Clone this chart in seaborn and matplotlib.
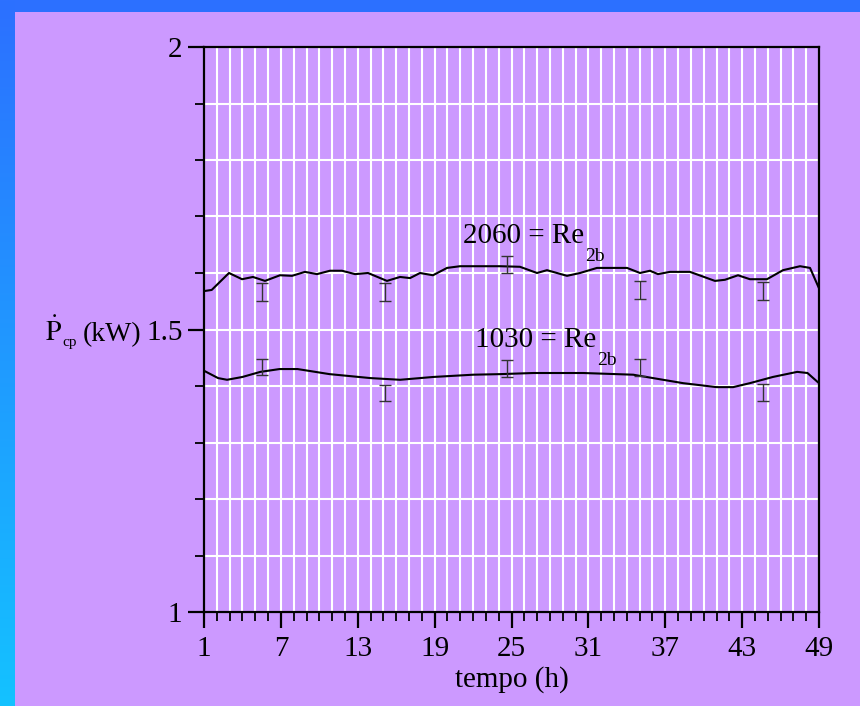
import numpy as np
import pandas as pd
import seaborn as sns
import matplotlib.pyplot as plt
from matplotlib.ticker import MultipleLocator

# Curve for Re_2b = 2060 (hours, kW)
hours_hi = [1.0, 1.6, 2.95, 3.97, 4.82, 5.76, 6.93, 7.87, 8.88, 9.82, 10.83,
            11.77, 12.79, 13.8, 15.28, 16.3, 17.08, 17.86, 18.87, 19.97,
            20.98, 24.1, 25.66, 26.99, 27.77, 29.33, 30.35, 31.67, 34.02,
            35.03, 35.81, 36.43, 37.37, 38.93, 40.88, 41.66, 42.68, 43.61,
            44.94, 46.19, 47.52, 48.3, 49.0]
pcp_hi = [1.568, 1.570, 1.600, 1.589, 1.593, 1.586, 1.596, 1.595, 1.602,
          1.598, 1.604, 1.604, 1.598, 1.600, 1.586, 1.593, 1.591, 1.600,
          1.596, 1.609, 1.612, 1.612, 1.611, 1.600, 1.605, 1.595, 1.600,
          1.609, 1.609, 1.600, 1.604, 1.598, 1.602, 1.602, 1.586, 1.588,
          1.596, 1.589, 1.589, 1.605, 1.612, 1.609, 1.573]

# Curve for Re_2b = 1030
hours_lo = [1.0, 2.1, 2.8, 4.0, 5.4, 6.9, 8.3, 10.8, 14.0, 16.3, 18.9, 22.0,
            24.1, 26.7, 30.6, 34.5, 35.0, 38.4, 41.0, 42.3, 43.6, 45.4, 47.3,
            48.1, 49.0]
pcp_lo = [1.427, 1.414, 1.411, 1.416, 1.425, 1.430, 1.430, 1.421, 1.414,
          1.411, 1.416, 1.420, 1.421, 1.423, 1.423, 1.420, 1.418, 1.405,
          1.398, 1.398, 1.405, 1.416, 1.425, 1.423, 1.405]

# Experimental points with error bars
err_hours = [5.5, 15.1, 24.65, 35.03, 44.6]
err_mean_hi = [1.566, 1.567, 1.615, 1.570, 1.568]
err_half_hi = [0.016, 0.016, 0.015, 0.016, 0.016]
err_mean_lo = [1.434, 1.388, 1.431, 1.433, 1.389]
err_half_lo = [0.014, 0.014, 0.015, 0.015, 0.015]

x_ticks = [1, 7, 13, 19, 25, 31, 37, 43, 49]
y_ticks = [1, 1.5, 2]
y_tick_labels = ['1', '1.5', '2']

purple = '#CC99FF'

sns.set_theme(style='ticks')
plt.rcParams['font.family'] = ['Liberation Serif', 'DejaVu Serif']
plt.rcParams['mathtext.fontset'] = 'stix'
plt.rcParams['text.color'] = 'black'
plt.rcParams['axes.labelcolor'] = 'black'

fig = plt.figure(figsize=(8.6, 7.06), dpi=100, facecolor=purple)
ax = fig.add_axes([204 / 860, 1 - 612 / 706, 615 / 860, 565 / 706])
ax.set_facecolor(purple)

# blue frame on the top and left edge
top_band = fig.add_axes([0, 1 - 12 / 706, 1, 12 / 706])
top_band.set_facecolor('#2C70FF')
top_band.set_xticks([])
top_band.set_yticks([])
for s in top_band.spines.values():
    s.set_visible(False)
left_band = fig.add_axes([0, 0, 15 / 860, 1])
grad = np.linspace(0, 1, 256).reshape(-1, 1)
cmap = sns.blend_palette(['#2C70FF', '#14C2FF'], as_cmap=True)
left_band.imshow(grad, aspect='auto', cmap=cmap)
left_band.axis('off')

df_hi = pd.DataFrame({'tempo': hours_hi, 'pcp': pcp_hi})
df_lo = pd.DataFrame({'tempo': hours_lo, 'pcp': pcp_lo})
sns.lineplot(data=df_hi, x='tempo', y='pcp', color='black', lw=1.5,
             estimator=None, ax=ax, zorder=3)
sns.lineplot(data=df_lo, x='tempo', y='pcp', color='black', lw=1.5,
             estimator=None, ax=ax, zorder=3)

ax.errorbar(err_hours, err_mean_hi, yerr=err_half_hi, fmt='none',
            ecolor='#333333', elinewidth=1, capsize=4, capthick=1, zorder=4)
ax.errorbar(err_hours, err_mean_lo, yerr=err_half_lo, fmt='none',
            ecolor='#333333', elinewidth=1, capsize=4, capthick=1, zorder=4)

ax.set_xlim(1, 49)
ax.set_ylim(1, 2)
ax.set_xticks(x_ticks)
ax.xaxis.set_minor_locator(MultipleLocator(1))
ax.set_yticks(y_ticks)
ax.set_yticklabels(y_tick_labels)
ax.yaxis.set_minor_locator(MultipleLocator(0.1))

ax.grid(which='both', color='white', lw=1.5)
ax.set_axisbelow(True)

for s in ax.spines.values():
    s.set_visible(True)
    s.set_color('black')
    s.set_linewidth(1.6)

ax.tick_params(which='major', direction='out', length=11.5, width=1.6,
               labelsize=21, colors='black')
ax.tick_params(which='minor', direction='out', length=6.5, width=1.3,
               colors='black')
ax.tick_params(axis='y', pad=4)
ax.tick_params(axis='x', pad=6)

ax.set_xlabel('tempo (h)', fontsize=21)
ax.xaxis.set_label_coords(0.5, -0.12)
ax.xaxis.label.set_va('center')
ax.set_ylabel('')

# y label built right to left: (kW), small "cp" subscript, then P-dot
kw_txt = ax.text(-0.1025, 0.479, '(kW)', transform=ax.transAxes,
                 fontsize=20, ha='right', va='baseline')
cp_txt = ax.annotate('cp', xy=(0, 0.479), xycoords=(kw_txt, 'axes fraction'),
                     xytext=(-4, -3), textcoords='offset points', fontsize=11,
                     ha='right', va='baseline')
ax.annotate(r'$\dot{\mathrm{P}}$', xy=(0, 0.479),
            xycoords=(cp_txt, 'axes fraction'), xytext=(-0.5, 0),
            textcoords='offset points', fontsize=20, ha='right',
            va='baseline')

t1 = ax.text(21.21, 1.653, '2060 = Re', fontsize=21, va='baseline',
             ha='left', zorder=5)
ax.annotate('2b', xy=(1, 0), xycoords=t1, xytext=(1, 1),
            textcoords='offset points', va='top', ha='left', fontsize=14)
t2 = ax.text(22.15, 1.469, '1030 = Re', fontsize=21, va='baseline',
             ha='left', zorder=5)
ax.annotate('2b', xy=(1, 0), xycoords=t2, xytext=(1, 1),
            textcoords='offset points', va='top', ha='left', fontsize=14)

fig.savefig('out.png', dpi=100, facecolor=purple)
